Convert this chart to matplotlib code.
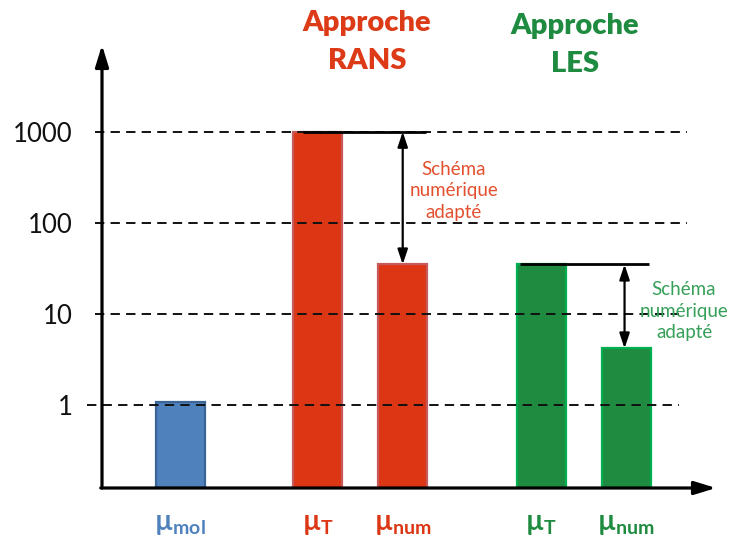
import matplotlib
matplotlib.use('Agg')
import matplotlib.pyplot as plt
from matplotlib.ticker import NullLocator, FixedLocator, FixedFormatter
import matplotlib.transforms as mtransforms

plt.rcParams['font.family'] = ['Lato', 'DejaVu Sans']
plt.rcParams['mathtext.fontset'] = 'custom'
plt.rcParams['mathtext.rm'] = 'Lato'
plt.rcParams['mathtext.bf'] = 'Lato:bold'
plt.rcParams['mathtext.it'] = 'Lato:italic'

# ---- data ----
subscripts = ['mol', 'T', 'num', 'T', 'num']
groups = ['mol', 'RANS', 'RANS', 'LES', 'LES']
values = [1.1, 1000, 35, 35, 4.2]
tick_values = [1, 10, 100, 1000]
tick_labels = ['1', '10', '100', '1000']
group_titles = ['Approche\nRANS', 'Approche\nLES']
note_text = 'Schéma\nnumérique\nadapté'

# ---- layout / style ----
x_pos = [0.0, 1.62, 2.62, 4.25, 5.25]
bar_width = 0.576
fill = {'mol': '#4F81BD', 'RANS': '#DC3614', 'LES': '#1E8B40'}
edge = {'mol': '#3A6596', 'RANS': '#C65A5C', 'LES': '#00B050'}
label_col = {'mol': '#4F81BD', 'RANS': '#DC3614', 'LES': '#1E8B40'}
title_col = {'RANS': '#DD3A18', 'LES': '#1E8B40'}
note_col = {'RANS': '#E4502F', 'LES': '#35A058'}
MU = '\u00b5'

fig = plt.figure(figsize=(7.34, 5.38), dpi=100)
ax = fig.add_axes([102 / 734, 50 / 538, 614 / 734, 443 / 538])
ax.set_yscale('log')
ymin, ymax = 10 ** -0.907, 10 ** 3.951
ax.set_ylim(ymin, ymax)
ax.set_xlim(-0.918, 6.306)
for s in ax.spines.values():
    s.set_visible(False)

# bars
ax.bar(x_pos, [v - ymin for v in values], bottom=ymin, width=bar_width,
       color=[fill[g] for g in groups], edgecolor=[edge[g] for g in groups],
       linewidth=1.6, zorder=2)

# dashed reference lines at tick values
line_extent = {1: (-0.024, 0.94), 10: (-0.011, 0.94), 100: (-0.011, 0.953), 1000: (-0.011, 0.953)}
for tv in tick_values:
    a, b = line_extent[tv]
    ax.axhline(tv, xmin=a, xmax=b, color='#111111', lw=1.4,
               linestyle=(0, (4.8, 3.2)), clip_on=False, zorder=3)

# y ticks
ax.yaxis.set_major_locator(FixedLocator(tick_values))
ax.yaxis.set_major_formatter(FixedFormatter(tick_labels))
ax.yaxis.set_minor_locator(NullLocator())
ax.tick_params(axis='y', length=0, pad=21, labelsize=18.5, labelcolor='#111111')
ax.set_xticks([])

# axis arrows
arrow_style = '-|>,head_length=0.65,head_width=0.2'
ax.annotate('', xy=(0, 1), xytext=(0, 0), xycoords='axes fraction',
            arrowprops=dict(arrowstyle=arrow_style, lw=2.3, color='black',
                            mutation_scale=20, shrinkA=0, shrinkB=0), annotation_clip=False)
ax.annotate('', xy=(1, 0), xytext=(-0.002, 0), xycoords='axes fraction',
            arrowprops=dict(arrowstyle=arrow_style, lw=2.3, color='black',
                            mutation_scale=20, shrinkA=0, shrinkB=0), annotation_clip=False)

# solid top lines and double arrows
ax.hlines(values[1], x_pos[1] - 0.173, x_pos[2] + 0.274, color='black', lw=2.0, zorder=4)
ax.hlines(values[3], x_pos[3] - 0.25, x_pos[4] + 0.268, color='black', lw=2.0, zorder=4)
dbl = '<|-|>,head_length=0.45,head_width=0.15'
ax.annotate('', xy=(x_pos[2], values[1]), xytext=(x_pos[2], values[2]),
            arrowprops=dict(arrowstyle=dbl, lw=1.6, color='black', mutation_scale=20,
                            shrinkA=0, shrinkB=0), zorder=5)
ax.annotate('', xy=(x_pos[4] - 0.02, values[3]), xytext=(x_pos[4] - 0.02, values[4]),
            arrowprops=dict(arrowstyle=dbl, lw=1.6, color='black', mutation_scale=20,
                            shrinkA=0, shrinkB=0), zorder=5)

# notes
ax.text(3.22, 224, note_text, color=note_col['RANS'], fontsize=13.5, ha='center',
        va='center', linespacing=1.3, zorder=6)
ax.text(5.93, 10.8, note_text, color=note_col['LES'], fontsize=13.5, ha='center',
        va='center', linespacing=1.3, zorder=6)

# titles
fig.text(367 / 734, 1 - 42 / 538, group_titles[0], color=title_col['RANS'], fontsize=21,
         fontweight='heavy', ha='center', va='center', linespacing=1.6)
fig.text(575 / 734, 1 - 45 / 538, group_titles[1], color=title_col['LES'], fontsize=21,
         fontweight='heavy', ha='center', va='center', linespacing=1.6)

# category labels
trans = mtransforms.blended_transform_factory(ax.transData, ax.transAxes)
for xp, sub, g in zip(x_pos, subscripts, groups):
    label = '$\\mathbf{' + MU + '}_{\\mathbf{' + sub + '}}$'
    ax.text(xp, -0.081, label, transform=trans,
            color=label_col[g], fontsize=20, ha='center', va='center', clip_on=False)

fig.savefig('out.png', dpi=100)
